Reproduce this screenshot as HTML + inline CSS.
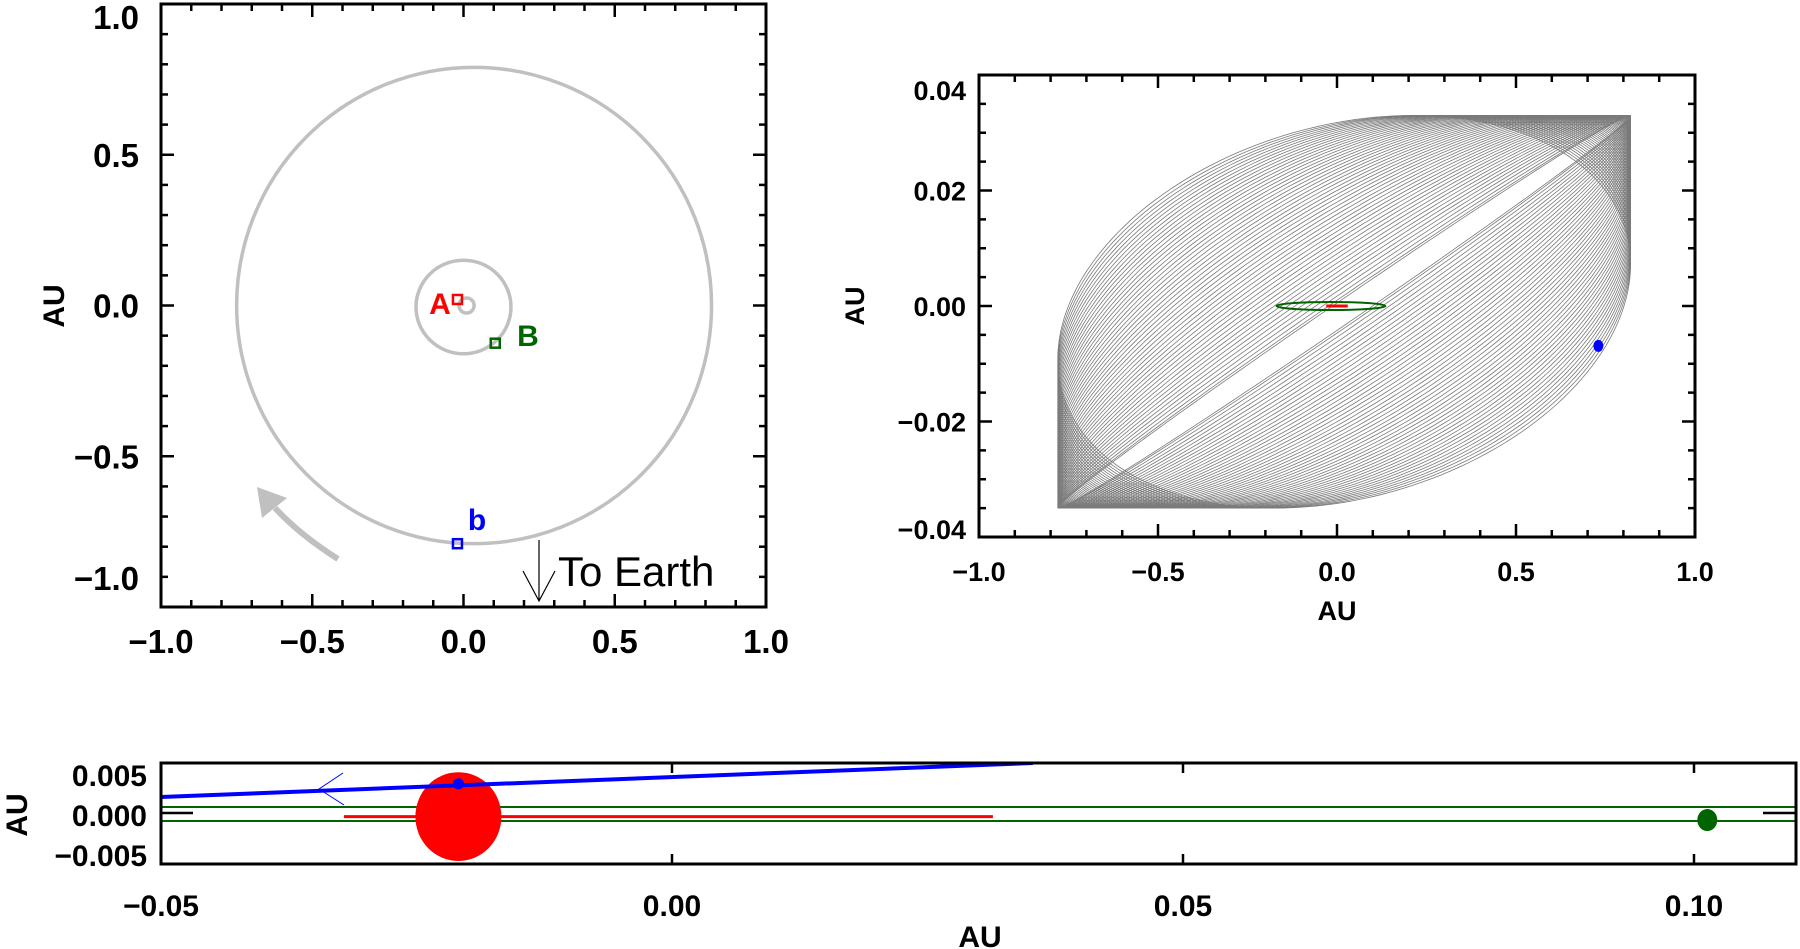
<!DOCTYPE html>
<html><head><meta charset="utf-8"><style>
html,body{margin:0;padding:0;background:#fff;}
svg{display:block;font-family:"Liberation Sans",sans-serif;}
</style></head><body>
<svg id="fig" width="1800" height="949" viewBox="0 0 1800 949" xmlns="http://www.w3.org/2000/svg">
<g id="p1"></g>
<g id="p2"></g>
<g id="p3"></g>
</svg>
<script>
// ---- data ----
const p1Ticks = [-1.0, -0.5, 0.0, 0.5, 1.0];
const p1TickLabels = ["\u22121.0", "\u22120.5", "0.0", "0.5", "1.0"];
const outerOrbit = {cx: 0.035, cy: 0.0, rx: 0.785, ry: 0.79};
const innerOrbit = {cx: 0.0, cy: -0.005, rx: 0.157, ry: 0.155};
const coreOrbit = {cx: 0.01, cy: 0.0, rx: 0.025, ry: 0.025};
const starAxy = [-0.02, 0.02];
const starBxy = [0.105, -0.125];
const planetbxy = [-0.02, -0.79];

const p2XTicks = [-1.0, -0.5, 0.0, 0.5, 1.0];
const p2XLabels = ["\u22121.0", "\u22120.5", "0.0", "0.5", "1.0"];
const p2YTicks = [0.04, 0.02, 0.0, -0.02, -0.04];
const p2YLabels = ["0.04", "0.02", "0.00", "\u22120.02", "\u22120.04"];
const precessPhasesDeg = [14,15.4,16.8,18.2,19.6,21,22.4,23.8,25.2,26.6,28,29.4,30.8,32.2,33.6,35,36.4,37.8,39.2,40.6,42,43.4,44.8,46.2,47.6,49,50.4,51.8,53.2,54.6,56,57.4,58.8,60.2,61.6,63,64.4,65.8,67.2,68.6,70,71.4,72.8,74.2,75.6,77,78.4,79.8,81.2,82.6,84,85.2,86];
const precessOrbit = {cx: 0.02, cy: -0.001, a: 0.80, b: 0.034};
const binaryOrbitB = {cx: -0.017, rx: 0.152, ry: 0.0007};
const binaryOrbitA = {cx: 0.0, rx: 0.03};
const p2Planet = [0.73, -0.0069];

const p3XTicks = [-0.05, 0.0, 0.05, 0.10];
const p3XLabels = ["\u22120.05", "0.00", "0.05", "0.10"];
const p3YTicks = [0.005, 0.0, -0.005];
const p3YLabels = ["0.005", "0.000", "\u22120.005"];
const p3BlueLine = [[-0.05, 0.00225], [0.0353, 0.0065]];
const p3BlueDot = [-0.0209, 0.0039];
const p3RedStar = [-0.0209, -0.0002];
const p3RedStarR = 0.0043;
const p3RedBand = [[-0.0321, -0.0002], [0.0314, -0.0002]];
const p3GreenLines = [0.001, -0.00075];
const p3GreenDot = [0.1013, -0.00063];

// ---- helpers ----
const NS = "http://www.w3.org/2000/svg";
function mk(parent, tag, attrs, text) {
  const e = document.createElementNS(NS, tag);
  for (const k in attrs) e.setAttribute(k, attrs[k]);
  if (text !== undefined) e.textContent = text;
  parent.appendChild(e);
  return e;
}
function frame(g, L, T, R, B, w) {
  const r = mk(g, "rect", {x: L, y: T, width: R - L, height: B - T, fill: "none", stroke: "#000", "stroke-width": w});
  
  
}

// ---- panel 1 ----
(function () {
  const g = document.getElementById("p1");
  const L = 161, R = 766, T = 4, B = 607;
  const X = d => 463.5 + d * 302.5, Y = d => 305.5 - d * 301.5;
  frame(g, L, T, R, B, 3);
  for (let i = -10; i <= 10; i++) {
    const v = i / 10, len = (i % 5 === 0) ? 13 : 7;
    mk(g, "line", {x1: X(v), y1: B, x2: X(v), y2: B - len, stroke: "#000", "stroke-width": 2.5});
    mk(g, "line", {x1: X(v), y1: T, x2: X(v), y2: T + len, stroke: "#000", "stroke-width": 2.5});
    mk(g, "line", {x1: L, y1: Y(v), x2: L + len, y2: Y(v), stroke: "#000", "stroke-width": 2.5});
    mk(g, "line", {x1: R, y1: Y(v), x2: R - len, y2: Y(v), stroke: "#000", "stroke-width": 2.5});
  }
  p1Ticks.forEach((v, i) => {
    const t = mk(g, "text", {x: X(v), y: 653, "text-anchor": "middle", "font-size": 33, "font-weight": "bold"}, p1TickLabels[i]);
    
    
    let yy = Y(v) + 12;
    if (i === 4) yy = 29; if (i === 0) yy = 590;
    const u = mk(g, "text", {x: 139, y: yy, "text-anchor": "end", "font-size": 33, "font-weight": "bold"}, p1TickLabels[i]);
    
    
  });
  const yl = mk(g, "text", {x: 0, y: 0, transform: "translate(64,306) rotate(-90)", "text-anchor": "middle", "font-size": 30, "font-weight": "bold"}, "AU");
  
  
  [outerOrbit, innerOrbit, coreOrbit].forEach(o => {
    const e = mk(g, "ellipse", {cx: X(o.cx), cy: Y(o.cy), rx: o.rx * 302.5, ry: o.ry * 301.5, fill: "none", stroke: "#c0c0c0", "stroke-width": 3.5});
    
    
  });
  const marks = [[starAxy, "#ff0000", "A", 440, 314, "star-a"], [starBxy, "#006400", "B", 528, 346, "star-b"], [planetbxy, "#0000ff", "b", 477, 530, "planet-b"]];
  marks.forEach(m => {
    const s = mk(g, "rect", {x: X(m[0][0]) - 4.5, y: Y(m[0][1]) - 4.5, width: 9, height: 9, fill: "none", stroke: m[1], "stroke-width": 2.5});
    
    
    const t = mk(g, "text", {x: m[3], y: m[4], "text-anchor": "middle", "font-size": 30, "font-weight": "bold", fill: m[1]}, m[2]);
    
    
  });
  const arr = mk(g, "path", {d: "M338 559 Q300 535 275 508", fill: "none", stroke: "#c0c0c0", "stroke-width": 6});
  
  
  const ah = mk(g, "polygon", {points: "257,487 262,518 287,498", fill: "#c0c0c0"});
  
  
  const ea = mk(g, "path", {d: "M539 540 L539 601 M523 571 L539 601 L555 571", fill: "none", stroke: "#000", "stroke-width": 1.2});
  
  
  const et = mk(g, "text", {x: 558, y: 586, "font-size": 42}, "To Earth");
  
  
})();

// ---- panel 2 ----
(function () {
  const g = document.getElementById("p2");
  const L = 979, R = 1695, T = 75, B = 537;
  const X = d => 1337 + d * 358, Y = d => 306 - d * 5775;
  precessPhasesDeg.forEach(ph => {
    const p = ph * Math.PI / 180;
    let d = "";
    for (let k = 0; k <= 180; k++) {
      const t = k / 180 * 2 * Math.PI;
      const x = precessOrbit.cx + precessOrbit.a * Math.cos(t);
      const y = precessOrbit.cy + precessOrbit.b * Math.sin(t + p);
      d += (k ? "L" : "M") + X(x).toFixed(1) + " " + Y(y).toFixed(1);
    }
    const e = mk(g, "path", {d: d, fill: "none", stroke: "#7a7a7a", "stroke-width": 0.8});
    
    
  });
  const gb = mk(g, "ellipse", {cx: X(binaryOrbitB.cx), cy: Y(0), rx: binaryOrbitB.rx * 358, ry: binaryOrbitB.ry * 5775, fill: "none", stroke: "#006400", "stroke-width": 2});
  
  
  const ra = mk(g, "line", {x1: X(binaryOrbitA.cx - binaryOrbitA.rx), y1: Y(0), x2: X(binaryOrbitA.cx + binaryOrbitA.rx), y2: Y(0), stroke: "#ff0000", "stroke-width": 3});
  
  
  const bd = mk(g, "ellipse", {cx: X(p2Planet[0]), cy: Y(p2Planet[1]), rx: 5, ry: 6, fill: "#0000ff"});
  
  
  frame(g, L, T, R, B, 3);
  for (let i = -10; i <= 10; i++) {
    const v = i / 10, len = (i % 5 === 0) ? 13 : 7;
    mk(g, "line", {x1: X(v), y1: B, x2: X(v), y2: B - len, stroke: "#000", "stroke-width": 2.5});
    mk(g, "line", {x1: X(v), y1: T, x2: X(v), y2: T + len, stroke: "#000", "stroke-width": 2.5});
  }
  for (let i = -8; i <= 8; i++) {
    const v = i * 0.005, len = (i % 4 === 0) ? 13 : 7;
    mk(g, "line", {x1: L, y1: Y(v), x2: L + len, y2: Y(v), stroke: "#000", "stroke-width": 2.5});
    mk(g, "line", {x1: R, y1: Y(v), x2: R - len, y2: Y(v), stroke: "#000", "stroke-width": 2.5});
  }
  p2XTicks.forEach((v, i) => {
    const t = mk(g, "text", {x: X(v), y: 581, "text-anchor": "middle", "font-size": 27, "font-weight": "bold"}, p2XLabels[i]);
    
    
  });
  p2YTicks.forEach((v, i) => {
    let yy = Y(v) + 10;
    if (i === 0) yy = 100; if (i === 4) yy = 539;
    const t = mk(g, "text", {x: 966, y: yy, "text-anchor": "end", "font-size": 27, "font-weight": "bold"}, p2YLabels[i]);
    
    
  });
  const xl = mk(g, "text", {x: 1337, y: 620, "text-anchor": "middle", "font-size": 27, "font-weight": "bold"}, "AU");
  
  
  const yl = mk(g, "text", {x: 0, y: 0, transform: "translate(864,306) rotate(-90)", "text-anchor": "middle", "font-size": 27, "font-weight": "bold"}, "AU");
  
  
})();

// ---- panel 3 ----
(function () {
  const g = document.getElementById("p3");
  const L = 161, R = 1796, T = 763, B = 864;
  const X = d => 672 + d * 10220, Y = d => 815 - d * 8000;
  const cp = mk(g, "clipPath", {id: "c3"});
  mk(cp, "rect", {x: L, y: T, width: R - L, height: B - T});
  const inner = mk(g, "g", {"clip-path": "url(#c3)"});
  p3GreenLines.forEach(v => {
    const l = mk(inner, "line", {x1: L, y1: Y(v), x2: R, y2: Y(v), stroke: "#006400", "stroke-width": 2});
    
    
  });
  const rb = mk(inner, "line", {x1: X(p3RedBand[0][0]), y1: Y(p3RedBand[0][1]), x2: X(p3RedBand[1][0]), y2: Y(p3RedBand[1][1]), stroke: "#ff0000", "stroke-width": 3});
  
  
  const rs = mk(inner, "ellipse", {cx: X(p3RedStar[0]), cy: Y(p3RedStar[1]), rx: 43, ry: p3RedStarR * 8000 + 10, fill: "#ff0000"});
  
  
  const bl = mk(inner, "line", {x1: X(p3BlueLine[0][0]), y1: Y(p3BlueLine[0][1]), x2: X(p3BlueLine[1][0]), y2: Y(p3BlueLine[1][1]), stroke: "#0000ff", "stroke-width": 4});
  
  
  const ba = mk(inner, "path", {d: "M343 773 L319 789 L344 805", fill: "none", stroke: "#0000ff", "stroke-width": 1});
  
  
  const bd = mk(inner, "circle", {cx: X(p3BlueDot[0]), cy: Y(p3BlueDot[1]), r: 5.5, fill: "#0000ff"});
  
  
  const gd = mk(inner, "ellipse", {cx: X(p3GreenDot[0]), cy: Y(p3GreenDot[1]), rx: 10, ry: 11, fill: "#006400"});
  
  
  mk(g, "line", {x1: L, y1: 813, x2: 193, y2: 813, stroke: "#000", "stroke-width": 2.5});
  mk(g, "line", {x1: 1763, y1: 813, x2: R, y2: 813, stroke: "#000", "stroke-width": 2.5});
  frame(g, L, T, R, B, 3);
  p3XTicks.forEach((v, i) => {
    mk(g, "line", {x1: X(v), y1: T, x2: X(v), y2: T + 10, stroke: "#000", "stroke-width": 2.5});
    mk(g, "line", {x1: X(v), y1: B, x2: X(v), y2: B - 10, stroke: "#000", "stroke-width": 2.5});
    const t = mk(g, "text", {x: X(v), y: 916, "text-anchor": "middle", "font-size": 30, "font-weight": "bold"}, p3XLabels[i]);
    
    
  });
  p3YTicks.forEach((v, i) => {
    const t = mk(g, "text", {x: 147, y: Y(v) + 11, "text-anchor": "end", "font-size": 30, "font-weight": "bold"}, p3YLabels[i]);
    
    
  });
  const xl = mk(g, "text", {x: 980, y: 947, "text-anchor": "middle", "font-size": 30, "font-weight": "bold"}, "AU");
  
  
  const yl = mk(g, "text", {x: 0, y: 0, transform: "translate(27,815) rotate(-90)", "text-anchor": "middle", "font-size": 30, "font-weight": "bold"}, "AU");
  
  
})();
</script>
</body></html>
